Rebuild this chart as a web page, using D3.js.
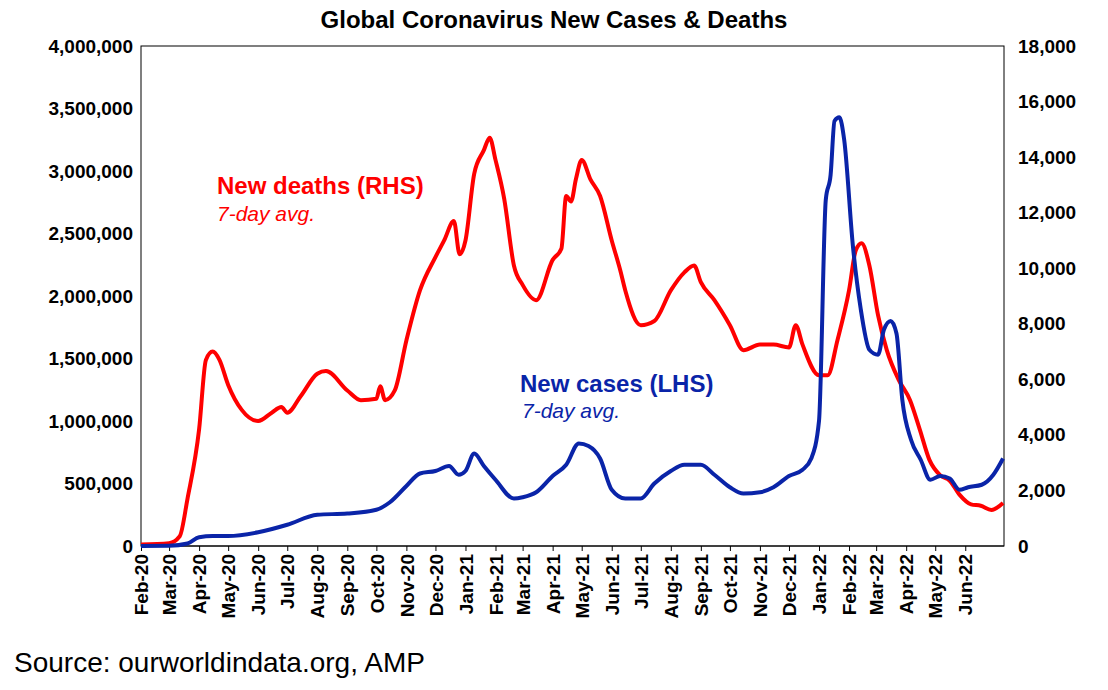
<!DOCTYPE html>
<html><head><meta charset="utf-8">
<script src="https://cdn.jsdelivr.net/npm/d3@7"></script>
<style>body{margin:0;background:#fff;font-family:"Liberation Sans",Arial,sans-serif}</style>
</head><body><svg id="c" width="1108" height="690"></svg>
<script>
// new cases, 7-day avg (LHS)
const caseDates = ["2020-02-01","2020-03-01","2020-03-20","2020-04-01","2020-04-15","2020-05-01","2020-06-01","2020-07-01","2020-08-01","2020-09-01","2020-10-01","2020-10-15","2020-11-01","2020-11-15","2020-12-01","2020-12-15","2020-12-25","2021-01-01","2021-01-10","2021-01-20","2021-02-01","2021-02-20","2021-03-01","2021-03-15","2021-04-01","2021-04-15","2021-04-28","2021-05-08","2021-05-20","2021-06-01","2021-06-15","2021-07-01","2021-07-15","2021-08-01","2021-08-15","2021-09-01","2021-09-15","2021-10-01","2021-10-15","2021-11-01","2021-11-15","2021-12-01","2021-12-15","2021-12-24","2022-01-01","2022-01-08","2022-01-13","2022-01-17","2022-01-22","2022-01-27","2022-02-05","2022-02-13","2022-02-22","2022-03-03","2022-03-09","2022-03-16","2022-03-22","2022-03-28","2022-04-06","2022-04-16","2022-04-26","2022-05-06","2022-05-16","2022-05-26","2022-06-04","2022-06-18","2022-06-30","2022-07-10"];
const caseValues = [0,2000,20000,70000,80000,80000,110000,170000,250000,260000,290000,350000,480000,580000,600000,640000,570000,600000,740000,640000,530000,380000,390000,430000,560000,650000,820000,800000,700000,450000,380000,380000,500000,600000,650000,650000,570000,470000,420000,430000,470000,560000,610000,700000,1000000,2770000,2970000,3400000,3430000,3250000,2400000,1900000,1570000,1530000,1730000,1800000,1700000,1170000,850000,690000,530000,560000,540000,450000,470000,490000,570000,700000];
// new deaths, 7-day avg (RHS)
const deathDates = ["2020-02-01","2020-03-01","2020-03-12","2020-03-20","2020-04-01","2020-04-08","2020-04-15","2020-04-22","2020-05-01","2020-05-15","2020-06-01","2020-06-15","2020-06-25","2020-07-01","2020-07-15","2020-08-01","2020-08-10","2020-09-01","2020-09-15","2020-10-01","2020-10-05","2020-10-10","2020-10-20","2020-11-01","2020-11-15","2020-12-01","2020-12-10","2020-12-20","2020-12-26","2021-01-01","2021-01-10","2021-01-20","2021-01-26","2021-02-01","2021-02-10","2021-02-20","2021-03-01","2021-03-15","2021-04-01","2021-04-10","2021-04-15","2021-04-20","2021-04-25","2021-05-01","2021-05-10","2021-05-20","2021-06-01","2021-06-10","2021-06-15","2021-07-01","2021-07-15","2021-08-01","2021-08-15","2021-08-25","2021-09-01","2021-09-15","2021-10-01","2021-10-15","2021-11-01","2021-11-15","2021-12-01","2021-12-08","2021-12-15","2022-01-01","2022-01-10","2022-01-20","2022-02-01","2022-02-08","2022-02-14","2022-02-22","2022-03-03","2022-03-12","2022-03-24","2022-04-05","2022-04-15","2022-04-25","2022-05-06","2022-05-16","2022-05-26","2022-06-07","2022-06-17","2022-06-28","2022-07-10"];
const deathValues = [50,100,350,1700,4200,6700,7000,6700,5800,4900,4500,4800,5000,4800,5400,6200,6300,5600,5250,5300,5750,5250,5600,7400,9200,10400,11000,11700,10500,11000,13400,14250,14700,13900,12500,10100,9400,8850,10300,10700,12600,12400,13200,13900,13200,12600,11000,9900,9200,7950,8100,9200,9850,10100,9500,8850,7950,7050,7250,7250,7150,7950,7250,6150,6150,7400,9200,10650,10900,10100,8300,7050,6000,5250,4200,3100,2550,2350,1850,1500,1450,1300,1550];
const monthLabels = ["Feb-20","Mar-20","Apr-20","May-20","Jun-20","Jul-20","Aug-20","Sep-20","Oct-20","Nov-20","Dec-20","Jan-21","Feb-21","Mar-21","Apr-21","May-21","Jun-21","Jul-21","Aug-21","Sep-21","Oct-21","Nov-21","Dec-21","Jan-22","Feb-22","Mar-22","Apr-22","May-22","Jun-22"];

const svg = d3.select("#c");
const L = 141, R = 1004, T = 46, B = 546;
const parse = d3.timeParse("%Y-%m-%d");
const x = d3.scaleTime().domain([parse("2020-02-01"), parse("2022-07-11")]).range([L, R]);
const yL = d3.scaleLinear().domain([0, 4000000]).range([B, T]);
const yR = d3.scaleLinear().domain([0, 18000]).range([B, T]);

svg.append("text").attr("x", 554).attr("y", 28).attr("text-anchor", "middle")
  .attr("font-size", 24).attr("font-weight", "bold").text("Global Coronavirus New Cases & Deaths");

svg.append("rect").attr("x", L).attr("y", T).attr("width", R - L).attr("height", B - T)
  .attr("fill", "none").attr("stroke", "#000").attr("stroke-width", 1);

const fmt = d3.format(",");
const gl = svg.append("g").attr("transform", `translate(${L},0)`)
  .call(d3.axisLeft(yL).tickValues(d3.range(0, 4000001, 500000)).tickFormat(fmt).tickSize(0).tickPadding(8));
const gr = svg.append("g").attr("transform", `translate(${R},0)`)
  .call(d3.axisRight(yR).tickValues(d3.range(0, 18001, 2000)).tickFormat(fmt).tickSize(0).tickPadding(14));
const monthDates = monthLabels.map(m => d3.timeParse("%b-%y")(m));
const gx = svg.append("g").attr("transform", `translate(0,${B})`)
  .call(d3.axisBottom(x).tickValues(monthDates).tickFormat(d3.timeFormat("%b-%y")).tickSize(5));
[gl, gr, gx].forEach(g => {
  g.select(".domain").remove();
  g.selectAll("text").attr("font-size", 19).attr("font-weight", "bold").attr("fill", "#000")
    .attr("font-family", "Liberation Sans, Arial, sans-serif");
});
gx.append("line").attr("x1", L).attr("x2", R).attr("stroke", "#000");
gx.selectAll(".tick line").attr("stroke", "#000");
gx.selectAll(".tick text").attr("transform", "rotate(-90)").attr("text-anchor", "end")
  .attr("x", -8).attr("y", 0).attr("dy", "0.35em");

const lineC = d3.line().x((d, i) => x(parse(caseDates[i]))).y(d => yL(d)).curve(d3.curveMonotoneX);
const lineD = d3.line().x((d, i) => x(parse(deathDates[i]))).y(d => yR(d)).curve(d3.curveMonotoneX);
svg.append("path").attr("d", lineD(deathValues)).attr("fill", "none").attr("stroke", "#ff0000").attr("stroke-width", 4);
svg.append("path").attr("d", lineC(caseValues)).attr("fill", "none").attr("stroke", "#0a24a8").attr("stroke-width", 4);

svg.append("text").attr("x", 217).attr("y", 194).attr("font-size", 24).attr("font-weight", "bold").attr("fill", "#ff0000").text("New deaths (RHS)");
svg.append("text").attr("x", 217).attr("y", 221).attr("font-size", 21).attr("font-style", "italic").attr("fill", "#ff0000").text("7-day avg.");
svg.append("text").attr("x", 520).attr("y", 392).attr("font-size", 24).attr("font-weight", "bold").attr("fill", "#0a24a8").text("New cases (LHS)");
svg.append("text").attr("x", 522).attr("y", 418).attr("font-size", 21).attr("font-style", "italic").attr("fill", "#0a24a8").text("7-day avg.");
svg.append("text").attr("x", 14).attr("y", 672).attr("font-size", 28).text("Source: ourworldindata.org, AMP");
</script></body></html>
